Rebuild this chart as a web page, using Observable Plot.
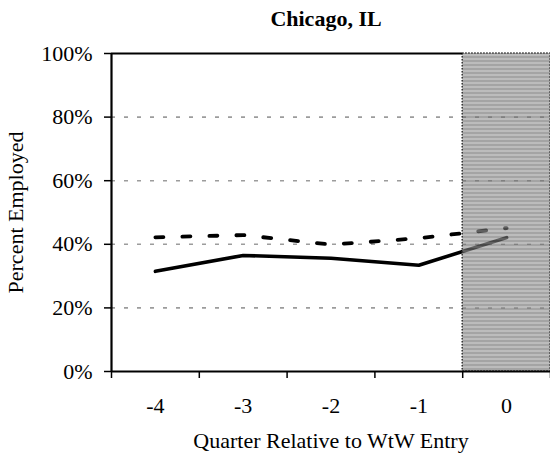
<!DOCTYPE html>
<html><head><meta charset="utf-8">
<script src="https://cdn.jsdelivr.net/npm/d3@7"></script>
<script src="https://cdn.jsdelivr.net/npm/@observablehq/plot@0.6"></script>
<style>body{margin:0;background:#fff}</style>
</head><body><div id="chart"></div>
<script>
const title = "Chicago, IL";
const quarters = [-4, -3, -2, -1, 0];
const seriesSolid = [31.5, 36.5, 35.6, 33.4, 42.1];
const seriesDashed = [42.2, 42.9, 39.9, 41.9, 45.1];
const yTicks = [0, 20, 40, 60, 80, 100];
const gridTicks = [20, 40, 60, 80];
const shadedQuarters = [0];
const xLabel = "Quarter Relative to WtW Entry";
const yLabel = "Percent Employed";

const xBoundaries = quarters.map(q => q - 0.5).concat([quarters[quarters.length - 1] + 0.5]);
const xMin = xBoundaries[0], xMax = xBoundaries[xBoundaries.length - 1];
const solidData = quarters.map((q, i) => ({q, v: seriesSolid[i]}));
const dashedData = quarters.map((q, i) => ({q, v: seriesDashed[i]}));
const shadeData = shadedQuarters.map(q => ({x1: q - 0.5, x2: q + 0.5}));
const font = '"Liberation Serif", "Times New Roman", serif';

const chart = Plot.plot({
  width: 550,
  height: 456,
  marginLeft: 111,
  marginRight: 0,
  marginTop: 53,
  marginBottom: 85,
  style: {fontFamily: font, fontSize: "22px", background: "#fff", color: "#000"},
  x: {domain: [xMin, xMax]},
  y: {domain: [0, 100]},
  marks: [
    Plot.ruleY(gridTicks, {stroke: "#9c9c9c", strokeWidth: 1.6, strokeDasharray: "4,9"}),
    Plot.line(solidData, {x: "q", y: "v", stroke: "#000", strokeWidth: 3.6}),
    Plot.line(dashedData, {x: "q", y: "v", stroke: "#000", strokeWidth: 3.8, strokeDasharray: "8,19"}),
    Plot.rect(shadeData, {x1: "x1", x2: "x2", y1: 0, y2: 100, fill: "url(#stripes)", fillOpacity: 0.64}),
    Plot.rect(shadeData, {x1: "x1", x2: "x2", y1: 0, y2: 100, fill: "none", stroke: "#333", strokeWidth: 1.5, strokeDasharray: "1.5,1.5"}),
    Plot.ruleY([100], {x1: xMin, x2: shadedQuarters[0] - 0.5, stroke: "#000", strokeWidth: 2}),
    Plot.ruleX([xMin], {y1: 0, y2: 100, stroke: "#000", strokeWidth: 2.2}),
    Plot.ruleY([0], {stroke: "#000", strokeWidth: 2.2}),
    Plot.axisY(yTicks, {tickSize: 7, tickPadding: 12, tickFormat: d => d + "%", label: null, fontSize: 22, strokeWidth: 1.5}),
    Plot.axisX(xBoundaries, {tickSize: 7, tickFormat: () => "", label: null, strokeWidth: 1.5}),
    Plot.axisX(quarters, {tickSize: 0, tickPadding: 26, tickFormat: d => String(d), label: null, fontSize: 22}),
    Plot.text([xLabel], {frameAnchor: "bottom", dy: 69, fontSize: 22, lineAnchor: "middle", textAnchor: "middle"}),
    Plot.text([yLabel], {frameAnchor: "left", dx: -96, rotate: -90, fontSize: 22, lineAnchor: "middle", textAnchor: "middle"}),
    Plot.text([title], {frameAnchor: "top", dx: -5, dy: -35, fontSize: 22, fontWeight: "bold", lineAnchor: "middle", textAnchor: "middle"})
  ]
});

const ns = "http://www.w3.org/2000/svg";
const defs = document.createElementNS(ns, "defs");
const pattern = document.createElementNS(ns, "pattern");
pattern.setAttribute("id", "stripes");
pattern.setAttribute("patternUnits", "userSpaceOnUse");
pattern.setAttribute("width", "4");
pattern.setAttribute("height", "4");
const r1 = document.createElementNS(ns, "rect");
r1.setAttribute("width", "4"); r1.setAttribute("height", "4"); r1.setAttribute("fill", "#969696");
const r2 = document.createElementNS(ns, "rect");
r2.setAttribute("width", "4"); r2.setAttribute("height", "2"); r2.setAttribute("fill", "#707070");
pattern.appendChild(r1); pattern.appendChild(r2);
defs.appendChild(pattern);
chart.insertBefore(defs, chart.firstChild);

document.getElementById("chart").appendChild(chart);
</script>
</body></html>
